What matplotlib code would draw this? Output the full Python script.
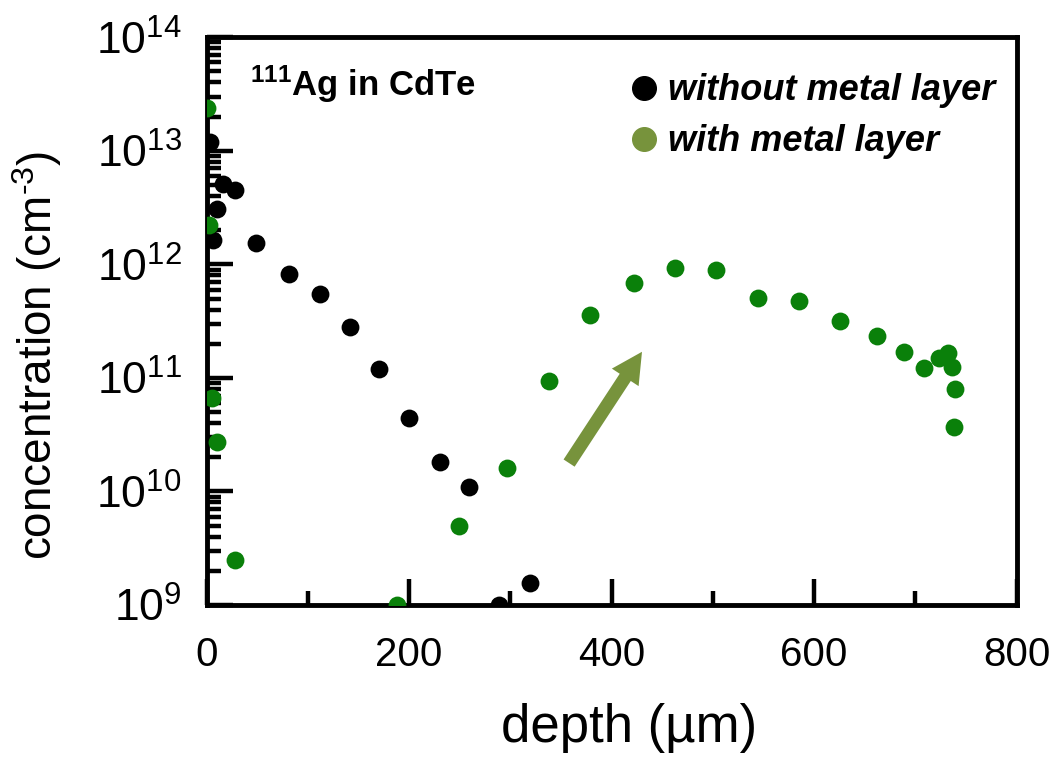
import matplotlib
matplotlib.use("Agg")
import matplotlib.pyplot as plt
from matplotlib.lines import Line2D
from matplotlib.ticker import LogLocator, LogFormatterSciNotation, MultipleLocator

# depth (um) and concentration (cm^-3)
depth_without = [3, 16, 28, 10, 6, 49, 81, 112, 142, 170, 200, 230, 259, 289, 319]
conc_without = [1.2e13, 5.1e12, 4.5e12, 3.1e12, 1.65e12, 1.55e12, 8.3e11, 5.5e11,
                2.8e11, 1.2e11, 4.4e10, 1.8e10, 1.1e10, 1.0e9, 1.55e9]

depth_with = [0, 2, 5, 10, 28, 188, 249, 297, 338, 379, 422, 463, 503, 545, 585,
              626, 662, 689, 709, 723, 732, 736, 739, 738]
conc_with = [2.4e13, 2.2e12, 6.6e10, 2.7e10, 2.5e9, 1.0e9, 5.0e9, 1.6e10, 9.4e10,
             3.6e11, 6.9e11, 9.3e11, 8.9e11, 5.1e11, 4.8e11, 3.2e11, 2.35e11,
             1.7e11, 1.23e11, 1.5e11, 1.66e11, 1.26e11, 8.0e10, 3.7e10]

series_labels = ["without metal layer", "with metal layer"]

BLACK = "#000000"
GREEN = "#0a800a"
OLIVE = "#77933c"

plt.rcParams["font.family"] = ["Liberation Sans", "DejaVu Sans"]
plt.rcParams["mathtext.fontset"] = "custom"
plt.rcParams["mathtext.rm"] = "Liberation Sans"
plt.rcParams["mathtext.it"] = "Liberation Sans:italic"
plt.rcParams["mathtext.bf"] = "Liberation Sans:bold"


def main():
    fig = plt.figure(figsize=(10.6, 7.61), dpi=100)
    ax = fig.add_axes([0.195, 0.205, 0.764, 0.746])

    ax.scatter(depth_without, conc_without, s=165, color=BLACK, linewidths=0, zorder=3)
    ax.scatter(depth_with, conc_with, s=165, color=GREEN, linewidths=0, zorder=3)

    ax.set_yscale("log")
    ax.set_xlim(0, 800)
    ax.set_ylim(1e9, 1e14)

    ax.xaxis.set_major_locator(MultipleLocator(200))
    ax.xaxis.set_minor_locator(MultipleLocator(100))
    ax.yaxis.set_major_locator(LogLocator(base=10, numticks=10))
    ax.yaxis.set_minor_locator(LogLocator(base=10, subs=range(2, 10), numticks=20))
    ax.yaxis.set_major_formatter(LogFormatterSciNotation())

    ax.tick_params(axis="both", which="major", direction="in", length=19, width=3.2)
    ax.tick_params(axis="both", which="minor", direction="in", length=10, width=3.2)
    ax.tick_params(axis="x", which="major", labelsize=29, pad=22)
    ax.tick_params(axis="y", which="major", labelsize=32, pad=18)
    ax.tick_params(top=False, right=False, which="both")

    for sp in ax.spines.values():
        sp.set_linewidth(3.5)

    ax.set_xlabel("depth (µm)", fontsize=38)
    ax.xaxis.set_label_coords(0.522, -0.172)
    ax.set_ylabel("concentration (cm$^{\\text{-}3}$)", fontsize=33, va="center")
    ax.yaxis.set_label_coords(-0.21, 0.44)

    ax.text(0.053, 0.918, "$^{\\mathbf{111}}$Ag in CdTe", transform=ax.transAxes,
            fontsize=25, fontweight="bold", va="center", ha="left")

    handles = [
        Line2D([], [], ls="none", marker="o", markersize=17, color=BLACK),
        Line2D([], [], ls="none", marker="o", markersize=17, color=OLIVE),
    ]
    ax.legend(handles, series_labels, loc="upper right", bbox_to_anchor=(1.0, 0.975),
              frameon=False, handlelength=0.6, handletextpad=0.35, labelspacing=0.45,
              borderaxespad=0.2,
              prop={"size": 26, "weight": "bold", "style": "italic"})

    ax.annotate("", xy=(430, 10 ** 11.23), xytext=(358, 10 ** 10.25),
                arrowprops=dict(arrowstyle="simple,head_width=2.3,head_length=2.2,tail_width=0.95",
                                color=OLIVE, lw=0, shrinkA=0, shrinkB=0),
                zorder=4)

    fig.savefig("out.png", dpi=100)
    plt.close(fig)


if __name__ == "__main__":
    main()
